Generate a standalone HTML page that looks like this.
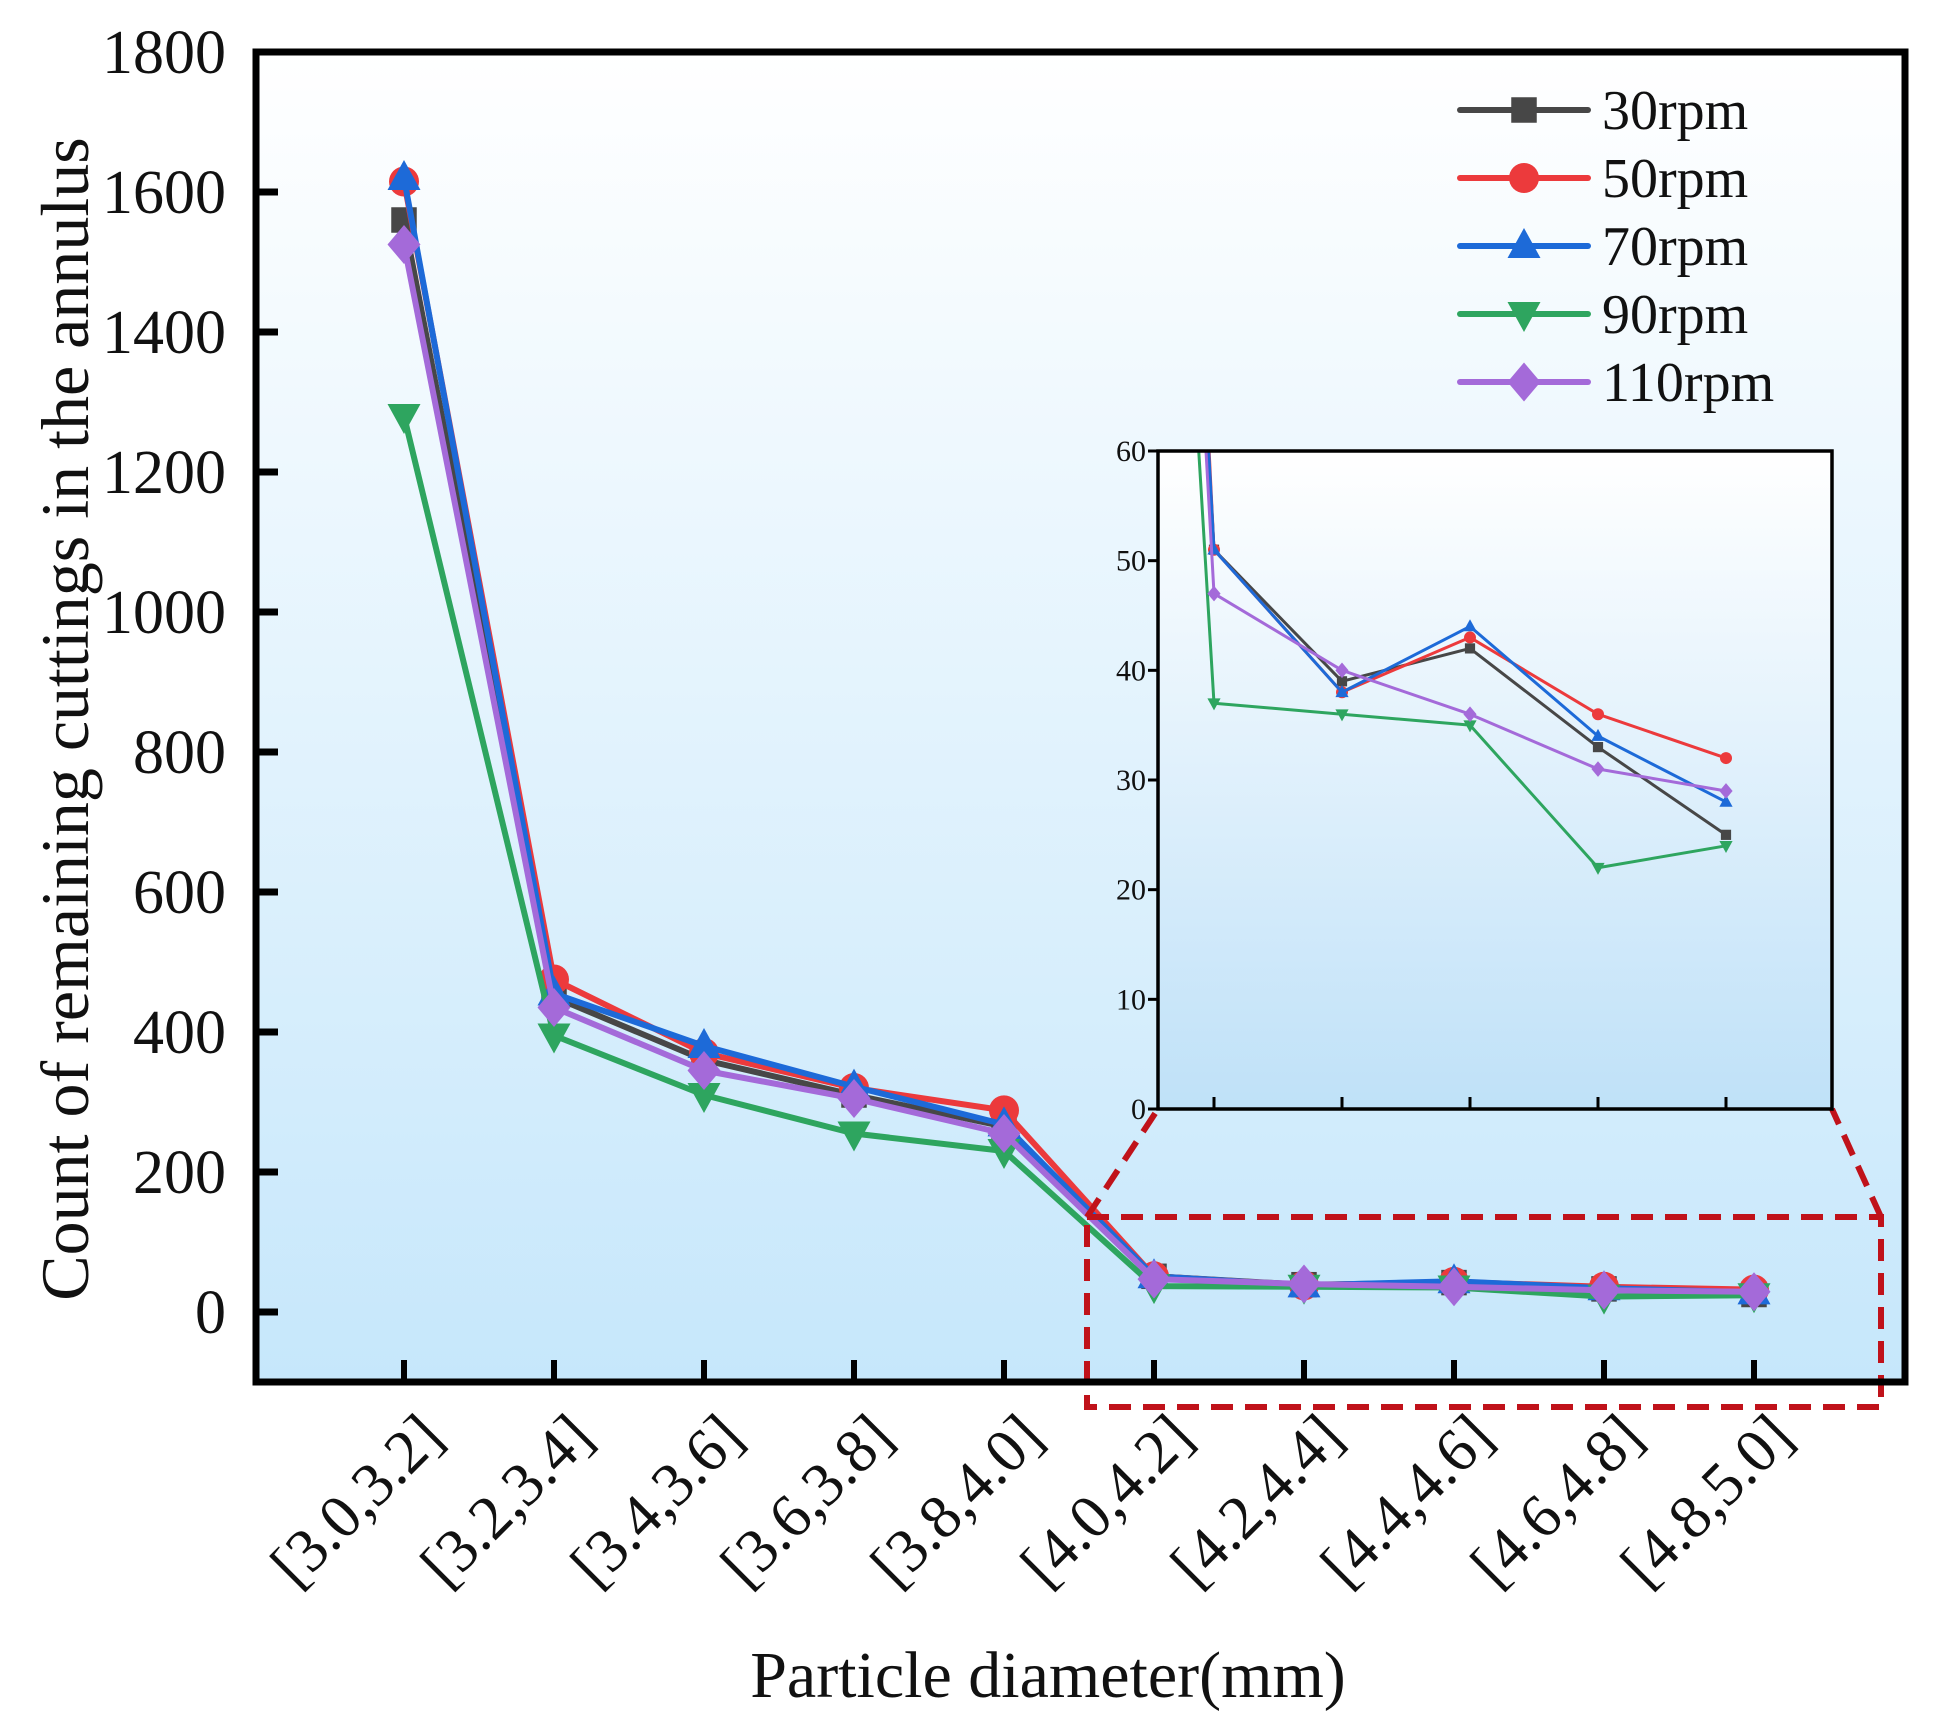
<!DOCTYPE html>
<html><head><meta charset="utf-8"><style>
html,body{margin:0;padding:0;background:#fff}
svg{display:block}
text{font-family:"Liberation Serif",serif;fill:#111}
</style></head><body>
<svg id="chart" width="1933" height="1726" viewBox="0 0 1933 1726">
<defs>
<linearGradient id="bg" x1="0" y1="0" x2="0" y2="1"><stop offset="0" stop-color="#ffffff"/><stop offset="1" stop-color="#c6e7fb"/></linearGradient>
<linearGradient id="bg2" x1="0" y1="0" x2="0" y2="1"><stop offset="0" stop-color="#ffffff"/><stop offset="1" stop-color="#bfe1f8"/></linearGradient>
<clipPath id="insetClip"><rect x="1158" y="451" width="674" height="658"/></clipPath>
</defs>
<rect x="256" y="52" width="1649" height="1330" fill="url(#bg)"/>
<g id="main"></g>
<g id="xlabels"></g>
<text x="1048" y="1697" font-size="66" text-anchor="middle">Particle diameter(mm)</text>
<text transform="translate(88,719) rotate(-90)" font-size="68" text-anchor="middle">Count  of remaining cuttings in the annulus</text>
<g id="zoombox">
<rect x="1087" y="1217" width="794" height="190" fill="none" stroke="#c0121a" stroke-width="6" stroke-dasharray="22,12"/>
<line x1="1087" y1="1217" x2="1158" y2="1109" stroke="#c0121a" stroke-width="6" stroke-dasharray="22,12"/>
<line x1="1881" y1="1217" x2="1832" y2="1109" stroke="#c0121a" stroke-width="6" stroke-dasharray="22,12"/>
</g>
<rect x="1158" y="451" width="674" height="658" fill="url(#bg2)"/>
<g id="inset"></g>
<rect x="1158" y="451" width="674" height="658" fill="none" stroke="#000" stroke-width="3.5"/>
<g id="legend"></g>
<rect x="256" y="52" width="1649" height="1330" fill="none" stroke="#000" stroke-width="7"/>
</svg>
<script>
const categories = ["[3.0,3.2]","[3.2,3.4]","[3.4,3.6]","[3.6,3.8]","[3.8,4.0]","[4.0,4.2]","[4.2,4.4]","[4.4,4.6]","[4.6,4.8]","[4.8,5.0]"];
const seriesNames = ["30rpm","50rpm","70rpm","90rpm","110rpm"];
const s30 = [1560,450,360,310,265,51,39,42,33,25];
const s50 = [1615,475,370,320,288,51,38,43,36,32];
const s70 = [1620,455,380,322,268,51,38,44,34,28];
const s90 = [1280,395,310,255,230,37,36,35,22,24];
const s110 = [1525,435,345,305,255,47,40,36,31,29];
const yTicks = [0,200,400,600,800,1000,1200,1400,1600,1800];
const insetTicks = [0,10,20,30,40,50,60];
const insetStart = 5;

const NS="http://www.w3.org/2000/svg";
const colors=["#474747","#ec3a3c","#1d6ad8","#2ea55f","#a46ad9"];
const shapes=["square","circle","up","down","diamond"];
const allSeries=[s30,s50,s70,s90,s110];
function xMain(i){return 404+150*i;}
function yMain(v){return 1312-v*0.7;}
function xIn(i){return 1214+128*(i-insetStart);}
function yIn(v){return 1109-v*(658/60);}
function mk(tag,attrs,parent){const e=document.createElementNS(NS,tag);for(const k in attrs)e.setAttribute(k,attrs[k]);parent.appendChild(e);return e;}
function marker(shape,cx,cy,r,color,parent){
  let e;
  if(shape==="square")e=mk("rect",{x:cx-r*0.85,y:cy-r*0.85,width:r*1.7,height:r*1.7,fill:color},parent);
  else if(shape==="circle")e=mk("circle",{cx:cx,cy:cy,r:r,fill:color},parent);
  else if(shape==="up")e=mk("polygon",{points:`${cx},${cy-r*1.2} ${cx+r*1.1},${cy+r*0.8} ${cx-r*1.1},${cy+r*0.8}`,fill:color},parent);
  else if(shape==="down")e=mk("polygon",{points:`${cx},${cy+r*1.2} ${cx+r*1.1},${cy-r*0.8} ${cx-r*1.1},${cy-r*0.8}`,fill:color},parent);
  else e=mk("polygon",{points:`${cx},${cy-r*1.3} ${cx+r*1.1},${cy} ${cx},${cy+r*1.3} ${cx-r*1.1},${cy}`,fill:color},parent);
  return e;
}
const main=document.getElementById("main");
yTicks.forEach(v=>{
  const t=mk("line",{x1:256,x2:278,y1:yMain(v),y2:yMain(v),stroke:"#000","stroke-width":7},main);
  
  
  const l=mk("text",{x:226,y:yMain(v)+21,"font-size":62,"text-anchor":"end"},main);
  l.textContent=v;
  
  
});
const xl=document.getElementById("xlabels");
categories.forEach((c,i)=>{
  const t=mk("line",{x1:xMain(i),x2:xMain(i),y1:1382,y2:1360,stroke:"#000","stroke-width":6},main);
  
  
  const l=mk("text",{transform:`translate(${xMain(i)+42},1440) rotate(-45)`,"font-size":62,"text-anchor":"end"},xl);
  l.textContent=c;
  
  
});
allSeries.forEach((s,k)=>{
  const g=mk("g",{},main);
  
  
  mk("polyline",{points:s.map((v,i)=>xMain(i)+","+yMain(v)).join(" "),fill:"none",stroke:colors[k],"stroke-width":6,"stroke-linejoin":"round"},g);
  s.forEach((v,i)=>{const m=marker(shapes[k],xMain(i),yMain(v),15,colors[k],g);
    
    });
});
const inset=document.getElementById("inset");
insetTicks.forEach(v=>{
  const t=mk("line",{x1:1158,x2:1148,y1:yIn(v),y2:yIn(v),stroke:"#000","stroke-width":3},inset);
  
  
  const l=mk("text",{x:1146,y:yIn(v)+10,"font-size":30,"text-anchor":"end",fill:"#333"},inset);
  l.textContent=v;
  
  
});
for(let i=insetStart;i<categories.length;i++){
  const t=mk("line",{x1:xIn(i),x2:xIn(i),y1:1109,y2:1097,stroke:"#000","stroke-width":3},inset);
  
  
}
const ig=mk("g",{"clip-path":"url(#insetClip)"},inset);
allSeries.forEach((s,k)=>{
  const g=mk("g",{},ig);
  
  
  const pts=[];
  for(let i=insetStart-1;i<s.length;i++)pts.push(xIn(i)+","+yIn(s[i]));
  mk("polyline",{points:pts.join(" "),fill:"none",stroke:colors[k],"stroke-width":3,"stroke-linejoin":"round"},g);
  for(let i=insetStart;i<s.length;i++){const m=marker(shapes[k],xIn(i),yIn(s[i]),6,colors[k],g);
    
    }
});
const leg=document.getElementById("legend");
const legY=[110,178,246,314,382];
seriesNames.forEach((n,k)=>{
  const g=mk("g",{},leg);
  
  
  mk("line",{x1:1460,x2:1588,y1:legY[k],y2:legY[k],stroke:colors[k],"stroke-width":6,"stroke-linecap":"round"},g);
  marker(shapes[k],1524,legY[k],15,colors[k],g);
  const t=mk("text",{x:1602,y:legY[k]+19,"font-size":56},g);
  t.textContent=n;
});
</script>
</body></html>
